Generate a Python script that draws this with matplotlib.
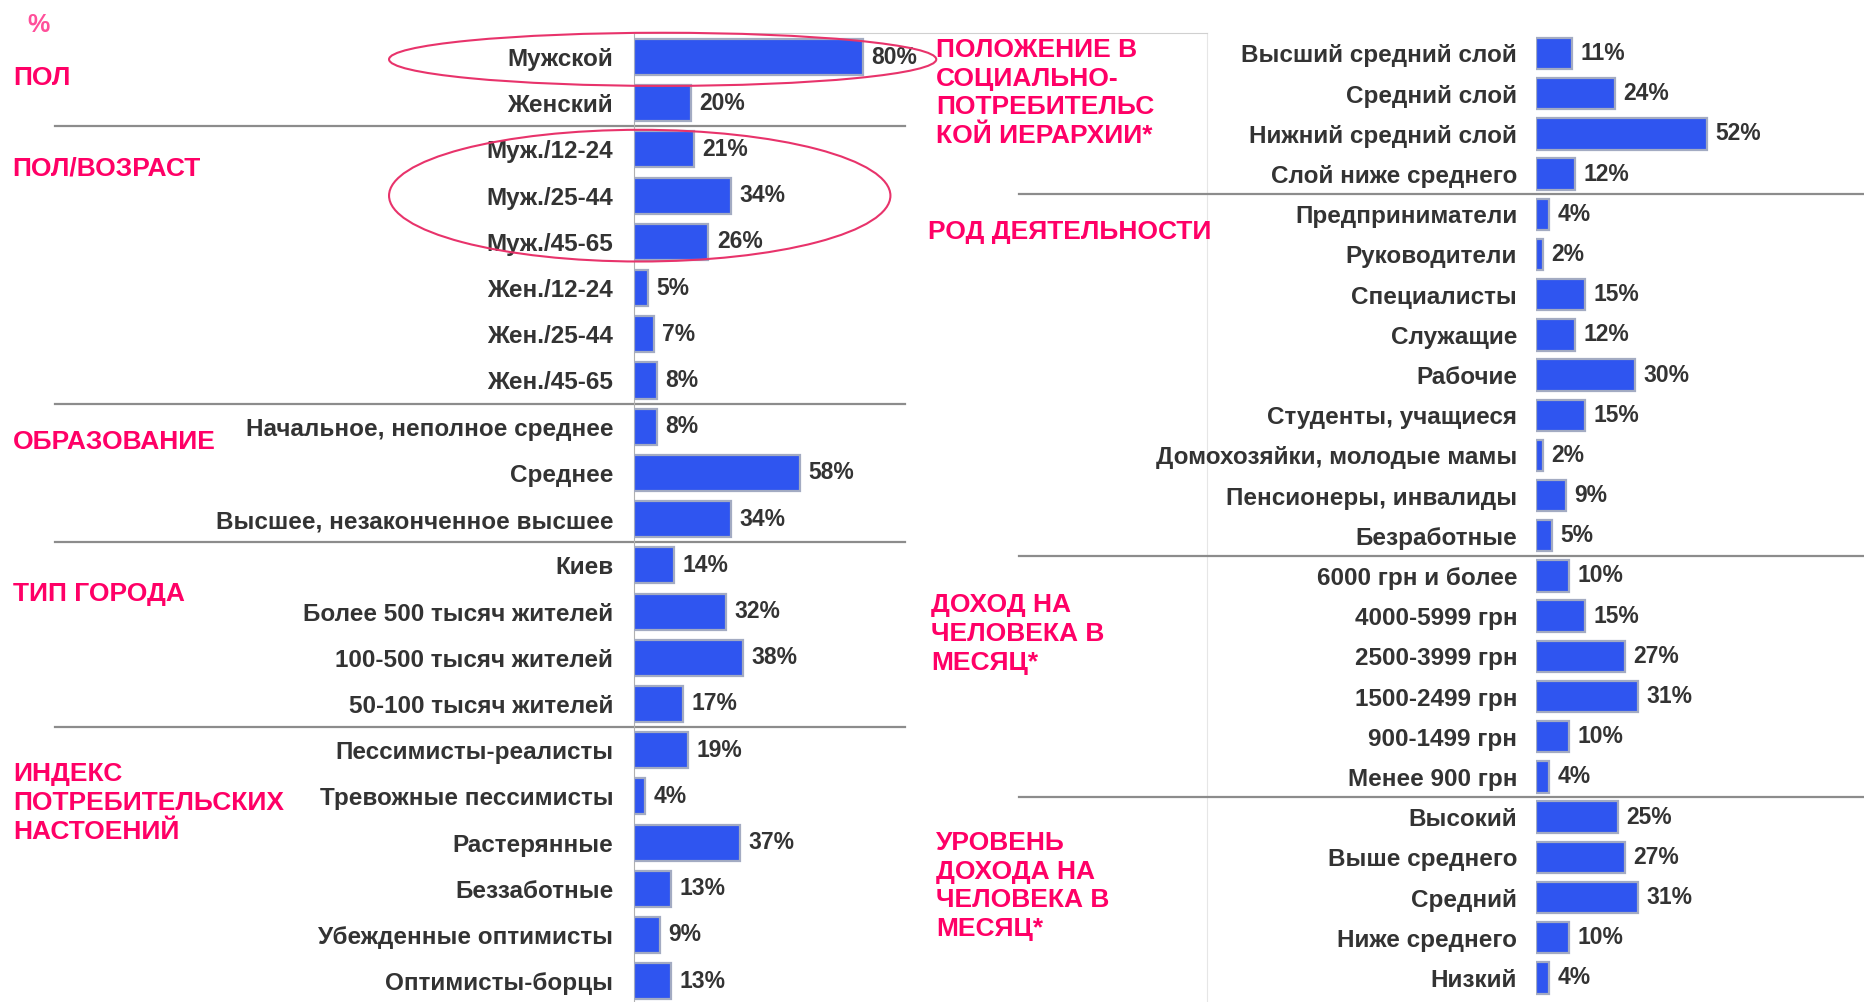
import numpy as np
import matplotlib
matplotlib.use('Agg')
import matplotlib.pyplot as plt
from matplotlib.patches import Ellipse

plt.rcParams['font.family'] = ['Liberation Sans', 'DejaVu Sans']

# left block
left_labels = ['Мужской', 'Женский',
               'Муж./12-24', 'Муж./25-44', 'Муж./45-65', 'Жен./12-24', 'Жен./25-44', 'Жен./45-65',
               'Начальное, неполное среднее', 'Среднее', 'Высшее, незаконченное высшее',
               'Киев', 'Более 500 тысяч жителей', '100-500 тысяч жителей', '50-100 тысяч жителей',
               'Пессимисты-реалисты', 'Тревожные пессимисты', 'Растерянные', 'Беззаботные',
               'Убежденные оптимисты', 'Оптимисты-борцы']
left_values = [80, 20, 21, 34, 26, 5, 7, 8, 8, 58, 34, 14, 32, 38, 17, 19, 4, 37, 13, 9, 13]
left_breaks = [2, 8, 11, 15]   # first row of each new group

# right block
right_labels = ['Высший средний слой', 'Средний слой', 'Нижний средний слой', 'Слой ниже среднего',
                'Предприниматели', 'Руководители', 'Специалисты', 'Служащие', 'Рабочие',
                'Студенты, учащиеся', 'Домохозяйки, молодые мамы', 'Пенсионеры, инвалиды', 'Безработные',
                '6000 грн и более', '4000-5999 грн', '2500-3999 грн', '1500-2499 грн', '900-1499 грн',
                'Менее 900 грн',
                'Высокий', 'Выше среднего', 'Средний', 'Ниже среднего', 'Низкий']
right_values = [11, 24, 52, 12, 4, 2, 15, 12, 30, 15, 2, 9, 5, 10, 15, 27, 31, 10, 4, 25, 27, 31, 10, 4]
right_breaks = [4, 13, 19]

W, H = 1865, 1002
pink = '#FF0066'
txt = '#333333'
bar_c = '#2f55f0'
bar_edge = '#a3abc2'

fig = plt.figure(figsize=(W / 100, H / 100), dpi=100)

def fx(px):
    return px / W

def fy(py):
    return 1 - py / H

def draw_block(ax, labels, values, breaks, line_from, line_to, pad):
    n = len(labels)
    y = np.arange(n)
    ax.barh(y, values, height=0.78, color=bar_c, edgecolor=bar_edge, linewidth=1.6, zorder=3)
    for yy, v in zip(y, values):
        ax.annotate('%d%%' % v, (v, yy), xytext=(6, 0), textcoords='offset points',
                    va='center', ha='left', fontsize=16.5, fontweight='bold', color=txt)
    ax.set_yticks(y)
    ax.set_yticklabels(labels, fontsize=17.5, fontweight='bold', color=txt)
    ax.tick_params(axis='y', length=0, pad=pad)
    ax.set_xticks([])
    for b in breaks:
        ax.plot([line_from, line_to], [b - 0.5, b - 0.5], color='#8c8c8c', lw=1.6,
                clip_on=False, zorder=2)

# left chart
ax1 = fig.add_axes([fx(634), 0, fx(1207 - 634), 1 - 33 / H])
draw_block(ax1, left_labels, left_values, left_breaks, -202, 94.5, 15)
ax1.set_xlim(0, 200)
ax1.set_ylim(20.45, -0.52)
ax1.spines['bottom'].set_visible(False)
ax1.spines['left'].set_color('#b0b0b0')
ax1.spines['top'].set_color('#d0d0d0')
ax1.spines['right'].set_color('#e6e6e6')

# pink ellipses
ax1.add_patch(Ellipse((10, 0.05), 191, 1.15, fill=False, ec='#e8336b', lw=1.5,
                      clip_on=False, zorder=5))
ax1.add_patch(Ellipse((2, 3.0), 175, 2.85, fill=False, ec='#e8336b', lw=1.5,
                      clip_on=False, zorder=5))

# right chart
ax2 = fig.add_axes([fx(1536), 0, fx(W - 1536), 1 - 33 / H])
draw_block(ax2, right_labels, right_values, right_breaks, -157, 100, 13.5)
ax2.set_xlim(0, 100)
ax2.set_ylim(23.6, -0.51)
for s in ax2.spines.values():
    s.set_visible(False)

# group titles
gkw = dict(color=pink, fontsize=19, fontweight='bold', ha='left', va='center', linespacing=1.25)
fig.text(fx(39), fy(25), '%', color='#ff4f9a', fontsize=18, fontweight='bold', ha='center', va='center')
fig.text(fx(13), fy(78), 'ПОЛ', **gkw)
fig.text(fx(12), fy(168), 'ПОЛ/ВОЗРАСТ', **gkw)
fig.text(fx(13), fy(442), 'ОБРАЗОВАНИЕ', **gkw)
fig.text(fx(13), fy(594), 'ТИП ГОРОДА', **gkw)
fig.text(fx(13), fy(803), 'ИНДЕКС\nПОТРЕБИТЕЛЬСКИХ\nНАСТОЕНИЙ', **gkw)
fig.text(fx(936), fy(93), 'ПОЛОЖЕНИЕ В\nСОЦИАЛЬНО-\nПОТРЕБИТЕЛЬС\nКОЙ ИЕРАРХИИ*', **gkw)
fig.text(fx(928), fy(232), 'РОД ДЕЯТЕЛЬНОСТИ', **gkw)
fig.text(fx(931), fy(634), 'ДОХОД НА\nЧЕЛОВЕКА В\nМЕСЯЦ*', **gkw)
fig.text(fx(936), fy(886), 'УРОВЕНЬ\nДОХОДА НА\nЧЕЛОВЕКА В\nМЕСЯЦ*', **gkw)

fig.savefig('out.png', dpi=100)
